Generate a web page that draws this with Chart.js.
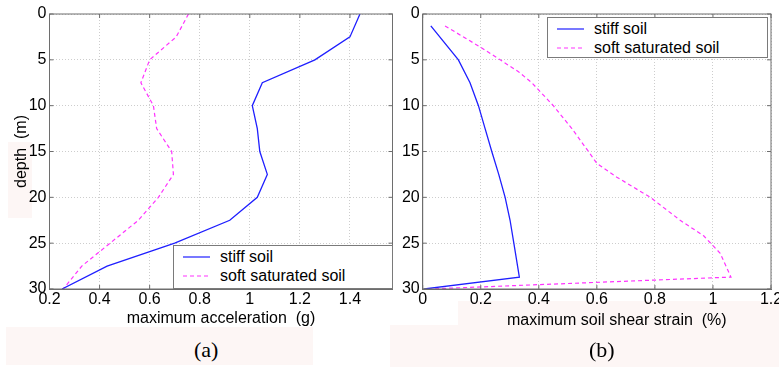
<!DOCTYPE html>
<html>
<head>
<meta charset="utf-8">
<script src="https://cdn.jsdelivr.net/npm/chart.js@4.4.1/dist/chart.umd.min.js"></script>
<style>
  html, body { margin: 0; padding: 0; background: #fff; }
  body { width: 779px; height: 367px; position: relative; overflow: hidden;
         font-family: "Liberation Sans", Arial, sans-serif; color: #000; }
  .tint { position: absolute; background: #fdf6f5; }
  canvas { position: absolute; top: 0; }
  .legend { position: absolute; background: #fff; border: 1px solid #7a7a7a;
            box-sizing: border-box; font-size: 16px; padding-top: 2px; }
  .legend-row { display: flex; align-items: center; height: 18.5px; white-space: nowrap; }
  .legend-row svg { margin: 0 10px 0 9px; }
  .xtitle { position: absolute; font-size: 16px; line-height: 18px; white-space: pre; }
  .caption { position: absolute; font-family: "Liberation Serif", "Times New Roman", serif;
             font-size: 22px; line-height: 22px; }
</style>
</head>
<body>

<div class="tint" style="left:6px; top:327px; width:307px; height:38px;"></div>
<div class="tint" style="left:390px; top:325px; width:389px; height:42px;"></div>
<div class="tint" style="left:458px; top:301px; width:321px; height:24px;"></div>
<div class="tint" style="left:8px; top:142px; width:24px; height:76px;"></div>

<canvas id="chart-accel" width="396" height="335" style="left:0px;"></canvas>
<canvas id="chart-strain" width="383" height="335" style="left:396px;"></canvas>

<div class="legend" id="legend-accel" style="left:173px; top:245px; width:220px; height:44px;"></div>
<div class="legend" id="legend-strain" style="left:547px; top:17px; width:221px; height:41px;"></div>

<div class="xtitle" style="left:507px; top:311px;">maximum soil shear strain  (%)</div>
<div class="caption" style="left:194px; top:339px;">(a)</div>
<div class="caption" style="left:589px; top:339px;">(b)</div>

<script>
// ------------------------------
// DATA
// ------------------------------

const seriesNames = ["stiff soil", "soft saturated soil"];

const depthTicks = [0, 5, 10, 15, 20, 25, 30];
const accelTicks = [0.2, 0.4, 0.6, 0.8, 1, 1.2, 1.4];
const strainTicks = [0, 0.2, 0.4, 0.6, 0.8, 1, 1.2];

// (a) maximum acceleration (g) against depth (m)
const accelDepth = [0, 2.5, 5, 7.5, 10, 12.5, 15, 17.5, 20, 22.5, 25, 27.5, 30];
const stiffAccel = [1.44, 1.40, 1.26, 1.05, 1.01, 1.03, 1.04, 1.07, 1.03, 0.92, 0.70, 0.43, 0.25];
const softAccel  = [0.755, 0.706, 0.60, 0.565, 0.615, 0.628, 0.688, 0.695, 0.635, 0.555, 0.442, 0.329, 0.255];

// (b) maximum soil shear strain (%) against depth (m)
const stiffStrainDepth = [1.3, 5, 7.5, 10, 12.5, 15, 17.5, 20, 22.5, 25, 28.7, 30];
const stiffStrain      = [0.028, 0.123, 0.163, 0.192, 0.215, 0.238, 0.262, 0.284, 0.301, 0.314, 0.333, 0.005];
const softStrainDepth  = [1.3, 3.6, 5, 6.3, 7.5, 10, 12.5, 15, 16.3, 17.8, 20, 22.5, 24.2, 26.1, 28.7, 30];
const softStrain       = [0.077, 0.198, 0.267, 0.33, 0.376, 0.45, 0.514, 0.571, 0.60, 0.669, 0.784, 0.887, 0.968, 1.025, 1.062, 0.02];


// ------------------------------
// HELPERS
// ------------------------------

Chart.defaults.font.family = "'Liberation Sans', Arial, sans-serif";
Chart.defaults.color = "#000";

const BLUE = "#1f1fff";
const MAGENTA = "#ff33ff";
const AXIS = "#6e6e6e";

function toPoints(xs, ys) {
  return xs.map((x, i) => ({ x: x, y: ys[i] }));
}

function fmt(v) {
  return String(Math.round(v * 10) / 10);
}

function fixedTicks(values) {
  return function (scale) {
    scale.ticks = values.map(v => ({ value: v }));
  };
}

function lineDataset(label, points, color, dashed) {
  return {
    label: label,
    data: points,
    showLine: true,
    borderColor: color,
    backgroundColor: color,
    borderWidth: dashed ? 1.2 : 1.3,
    borderDash: dashed ? [4, 3] : [],
    pointRadius: 0,
    tension: 0
  };
}

// box round the plot plus small inward ticks, like the original
const framePlugin = {
  id: "frame",
  afterDraw(chart) {
    const { ctx, chartArea: a, scales } = chart;
    ctx.save();
    ctx.strokeStyle = AXIS;
    ctx.lineWidth = 1;
    ctx.setLineDash([]);
    ctx.strokeRect(a.left, a.top, a.right - a.left, a.bottom - a.top);
    ctx.beginPath();
    scales.x.ticks.forEach(t => {
      const px = scales.x.getPixelForValue(t.value);
      ctx.moveTo(px, a.bottom); ctx.lineTo(px, a.bottom - 4);
      ctx.moveTo(px, a.top); ctx.lineTo(px, a.top + 4);
    });
    scales.y.ticks.forEach(t => {
      const py = scales.y.getPixelForValue(t.value);
      ctx.moveTo(a.left, py); ctx.lineTo(a.left + 4, py);
      ctx.moveTo(a.right, py); ctx.lineTo(a.right - 4, py);
    });
    ctx.stroke();
    ctx.restore();
  }
};

function buildLegend(el, chart) {
  chart.data.datasets.forEach(ds => {
    const row = document.createElement("div");
    row.className = "legend-row";
    const dash = ds.borderDash.length ? ' stroke-dasharray="4 3"' : "";
    row.innerHTML =
      '<svg width="27" height="4"><line x1="0" y1="2" x2="27" y2="2" stroke="' +
      ds.borderColor + '" stroke-width="1.2"' + dash + '/></svg>';
    const text = document.createElement("span");
    text.textContent = ds.label;
    row.appendChild(text);
    el.appendChild(row);
  });
}

function makeChart(canvasId, cfg) {
  const yTitle = cfg.yTitle;
  const xTitle = cfg.xTitle;

  return new Chart(document.getElementById(canvasId), {
    type: "scatter",
    data: { datasets: cfg.datasets },
    plugins: [framePlugin],
    options: {
      responsive: false,
      animation: false,
      devicePixelRatio: 1,
      layout: { padding: { top: 14, right: cfg.padRight, bottom: 0, left: 0 } },
      plugins: { legend: { display: false }, tooltip: { enabled: false } },
      scales: {
        x: {
          type: "linear",
          min: cfg.xMin,
          max: cfg.xMax,
          afterBuildTicks: fixedTicks(cfg.xTicks),
          afterFit(scale) {
            scale.height = 46;
            scale.paddingLeft = 0;
            scale.paddingRight = 0;
          },
          ticks: { font: { size: 16 }, padding: 1, maxRotation: 0, autoSkip: false,
                   callback: v => fmt(v) },
          grid: { color: "#cdcdcd", drawTicks: false },
          border: { color: AXIS, dash: [1, 2] },
          title: {
            display: !!xTitle,
            text: xTitle || "",
            font: { size: 16 },
            padding: { top: 0, bottom: 7 }
          }
        },
        y: {
          type: "linear",
          reverse: true,
          min: 0,
          max: 30,
          afterBuildTicks: fixedTicks(depthTicks),
          afterFit(scale) {
            scale.width = cfg.yWidth;
            scale.paddingTop = 0;
            scale.paddingBottom = 0;
          },
          ticks: { font: { size: 16 }, padding: 3, autoSkip: false, callback: v => fmt(v) },
          grid: { color: "#cdcdcd", drawTicks: false },
          border: { color: AXIS, dash: [1, 2] },
          title: {
            display: !!yTitle,
            text: yTitle || "",
            font: { size: 16 },
            padding: { top: 12.4, bottom: 0 }
          }
        }
      }
    }
  });
}


// ------------------------------
// CHARTS
// ------------------------------

const accelChart = makeChart("chart-accel", {
  datasets: [
    lineDataset(seriesNames[0], toPoints(stiffAccel, accelDepth), BLUE, false),
    lineDataset(seriesNames[1], toPoints(softAccel, accelDepth), MAGENTA, true)
  ],
  xMin: 0.2, xMax: 1.57, xTicks: accelTicks,
  yWidth: 49.5, padRight: 3.5,
  xTitle: "maximum acceleration  (g)",
  yTitle: "depth  (m)"
});

const strainChart = makeChart("chart-strain", {
  datasets: [
    lineDataset(seriesNames[0], toPoints(stiffStrain, stiffStrainDepth), BLUE, false),
    lineDataset(seriesNames[1], toPoints(softStrain, softStrainDepth), MAGENTA, true)
  ],
  xMin: 0, xMax: 1.2, xTicks: strainTicks,
  yWidth: 26.7, padRight: 8,
  xTitle: null,
  yTitle: null
});

buildLegend(document.getElementById("legend-accel"), accelChart);
buildLegend(document.getElementById("legend-strain"), strainChart);
</script>
</body>
</html>
